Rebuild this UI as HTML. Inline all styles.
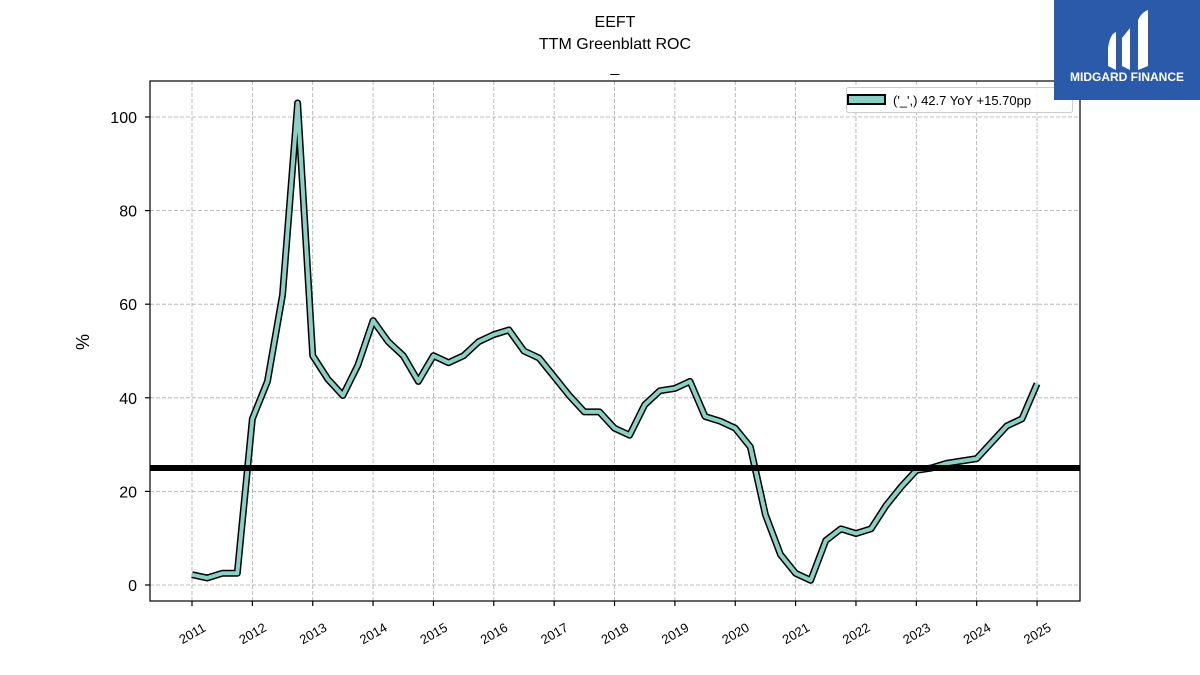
<!DOCTYPE html>
<html><head><meta charset="utf-8"><style>
body{margin:0;background:#fff;}
svg{display:block;font-family:"Liberation Sans","DejaVu Sans",sans-serif;}
</style></head><body>
<svg id="chart" width="1200" height="675" viewBox="0 0 1200 675" xmlns="http://www.w3.org/2000/svg">
<rect width="1200" height="675" fill="#fff"/>
<text x="615" y="27" text-anchor="middle" font-size="16">EEFT</text>
<text x="615" y="49" text-anchor="middle" font-size="16">TTM Greenblatt ROC</text>
<text x="615" y="72" text-anchor="middle" font-size="16">_</text>
<g id="grid"></g>
<g id="series"></g>
<rect x="150" y="81" width="930" height="520" fill="none" stroke="#000" stroke-width="1.2"/>
<g id="axes"></g>
<text x="89" y="342" text-anchor="middle" font-size="18" transform="rotate(-90 89 342)">%</text>
<g>
<rect x="846.5" y="87.5" width="226" height="25" rx="2" fill="#fff" fill-opacity="0.85" stroke="#ccc"/>
<rect x="848" y="95" width="37" height="9" fill="#88d1c4" stroke="#000" stroke-width="2"/>
<text x="893" y="105" font-size="13">('_',) 42.7 YoY +15.70pp</text>
</g>
<g>
<rect x="1054" y="0" width="146" height="100" fill="#2c5aab"/>
<path d="M1108 48 Q1110 34 1116 32 L1116 70 L1108 66 Z M1122 38 L1130 28 L1130 70 L1122 66 Z M1138 20 Q1142 12 1148 10 L1148 66 L1138 70 Z M1122 44 L1130 52" fill="#fff"/>
<text x="1127" y="81" text-anchor="middle" font-size="12" font-weight="bold" fill="#fff">MIDGARD FINANCE</text>
</g>
<script>
const years = [2011,2012,2013,2014,2015,2016,2017,2018,2019,2020,2021,2022,2023,2024,2025];
const yTicks = [0,20,40,60,80,100];
const startYear = 2011;
const values = [2.2,1.5,2.5,2.5,35.5,43.5,62,103,49,44,40.5,47,56.5,52,49,43.5,49,47.5,49,52,53.5,54.5,50,48.5,44.5,40.5,37,37,33.5,32,38.5,41.5,42,43.5,36,35,33.5,29.5,15,6.5,2.5,1,9.5,12,11,12,17,21,24.5,25,26,26.5,27,30.5,34,35.5,43];
const threshold = [25];
const NS="http://www.w3.org/2000/svg";
const X = t => 192 + (t-2011)*60.36;
const Y = v => 585 - v*4.68;
const grid=document.getElementById('grid'), axes=document.getElementById('axes'), series=document.getElementById('series');
function mk(tag,attrs,parent){const e=document.createElementNS(NS,tag);for(const k in attrs)e.setAttribute(k,attrs[k]);parent.appendChild(e);return e;}
years.forEach(yr=>{
  const x=X(yr);
  const g=mk('line',{x1:x,x2:x,y1:81,y2:601,stroke:'#aaa','stroke-dasharray':'4,2','stroke-width':0.8},grid);
  
  
  const t=mk('line',{x1:x,x2:x,y1:601,y2:606,stroke:'#000','stroke-width':1.2},axes);
  
  
  const l=mk('text',{x:x,y:638,'text-anchor':'middle','font-size':13,transform:`rotate(-30 ${x} 633)`},axes);
  l.textContent=yr;
  
  
});
yTicks.forEach(v=>{
  const y=Y(v);
  const g=mk('line',{x1:150,x2:1080,y1:y,y2:y,stroke:'#aaa','stroke-dasharray':'4,2','stroke-width':0.8},grid);
  
  
  const t=mk('line',{x1:145,x2:150,y1:y,y2:y,stroke:'#000','stroke-width':1.2},axes);
  
  
  const l=mk('text',{x:137,y:y+6,'text-anchor':'end','font-size':16},axes);
  l.textContent=v;
  
  
});
const pts=values.map((v,i)=>X(startYear+i/4)+','+Y(v)).join(' ');
const o=mk('polyline',{points:pts,fill:'none',stroke:'#000','stroke-width':7,'stroke-linejoin':'round'},series);


const ln=mk('polyline',{points:pts,fill:'none',stroke:'#88d1c4','stroke-width':4,'stroke-linejoin':'round'},series);


const h=mk('line',{x1:150,x2:1080,y1:Y(threshold[0]),y2:Y(threshold[0]),stroke:'#000','stroke-width':6},series);


</script>
</svg>
</body></html>
